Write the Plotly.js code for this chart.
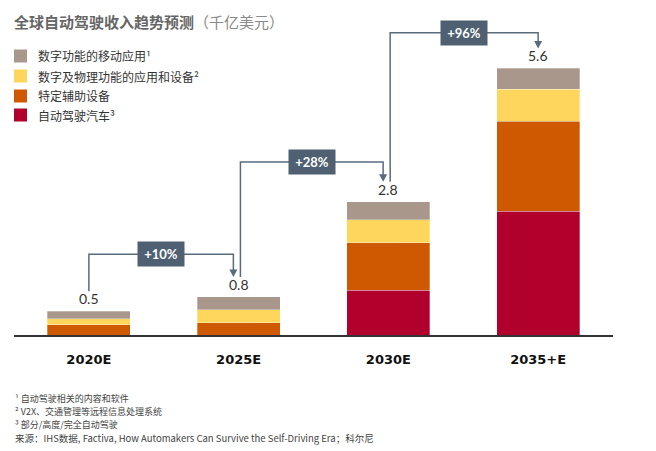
<!DOCTYPE html>
<html>
<head>
<meta charset="utf-8">
<script src="https://cdn.plot.ly/plotly-3.0.1.min.js"></script>
<style>html,body{margin:0;padding:0;background:#fff;}#chart{width:656px;height:451px;}</style>
</head>
<body>
<div id="chart"></div>
<script>
// ---- data ----
const categories = ['2020E', '2025E', '2030E', '2035+E'];
const autonomousCars = [0, 0, 0.94, 2.6];        // 自动驾驶汽车
const assistDevices = [0.22, 0.26, 1.0, 1.89];   // 特定辅助设备
const digitalPhysical = [0.12, 0.27, 0.48, 0.67];// 数字及物理功能的应用和设备
const digitalMobile = [0.16, 0.27, 0.38, 0.44];  // 数字功能的移动应用
const growthLabels = ['+10%', '+28%', '+96%'];
const seriesNames = ['自动驾驶汽车³', '特定辅助设备', '数字及物理功能的应用和设备²', '数字功能的移动应用¹'];
const seriesColors = ['#b1002c', '#cf5900', '#ffd65c', '#a8978a'];
const footnotes = [
  '¹ 自动驾驶相关的内容和软件',
  '² V2X、交通管理等远程信息处理系统',
  '³ 部分/高度/完全自动驾驶',
  '来源：IHS数据, Factiva, How Automakers Can Survive the Self-Driving Era；科尔尼'
];

// ---- build ----
const seriesValues = [autonomousCars, assistDevices, digitalPhysical, digitalMobile];
const xIdx = categories.map((c, i) => i);
const totals = xIdx.map(i => seriesValues.reduce((s, arr) => s + arr[i], 0));

const W = 656, H = 451, ML = 14, MR = 43, MT = 0, MB = 116;
const plotW = W - ML - MR, plotH = H - MT - MB;
const pxPerUnitY = 47.6;
const pxPerCat = plotW / categories.length;
const px2xp = px => (px - ML) / plotW;
const py2yp = py => (MT + plotH - py) / plotH;

const latin = 'Lato, "Noto Sans CJK SC", sans-serif';
const cjk = '"Noto Sans CJK SC", Lato, sans-serif';

const traces = seriesValues.map((vals, k) => ({
  type: 'bar',
  x: xIdx,
  y: vals,
  name: seriesNames[k],
  marker: {color: seriesColors[k], line: {color: 'rgba(255,255,255,0.5)', width: 0.6}},
  hoverinfo: 'skip'
}));

const shapes = [];
const annotations = [];
const lineColor = '#5a6b7c';

// value labels
xIdx.forEach(i => {
  annotations.push({
    x: i, y: totals[i], xref: 'x', yref: 'y',
    text: totals[i].toFixed(1), showarrow: false,
    yanchor: 'bottom', yshift: 2,
    font: {family: latin, size: 14, color: '#333'}
  });
});

// growth connectors
const headHalfW = 4 / pxPerCat;      // half arrowhead width in category units
const headLen = 7.5 / pxPerUnitY;    // arrowhead length in value units
growthLabels.forEach((g, i) => {
  const startX = i + (i > 0 ? 0.012 : 0);
  const endX = (i + 1) - ((i + 1) < categories.length - 1 ? 0.035 : 0);
  const startY = totals[i] + 0.42;
  const tipY = totals[i + 1] + 0.42;
  const level = totals[i + 1] * 0.97 + 0.92;
  shapes.push({
    type: 'path', xref: 'x', yref: 'y',
    path: `M ${startX},${startY} L ${startX},${level} L ${endX},${level} L ${endX},${tipY + headLen * 0.8}`,
    line: {color: lineColor, width: 1.5}
  });
  shapes.push({
    type: 'path', xref: 'x', yref: 'y',
    path: `M ${endX - headHalfW},${tipY + headLen} L ${endX + headHalfW},${tipY + headLen} L ${endX},${tipY} Z`,
    fillcolor: lineColor, line: {width: 0}
  });
  annotations.push({
    x: (startX + endX) / 2, y: level, xref: 'x', yref: 'y',
    text: '<b>' + g + '</b>', showarrow: false,
    width: 46, height: 24, borderpad: 0,
    bgcolor: '#4e6072',
    font: {family: latin, size: 13, color: '#fff'}
  });
});

// manual legend (top to bottom: reverse of stacking)
const legendRowsY = [56, 76, 96, 115];
[3, 2, 1, 0].forEach((k, r) => {
  const cy = legendRowsY[r];
  shapes.push({
    type: 'rect', xref: 'paper', yref: 'paper',
    x0: px2xp(14), x1: px2xp(27), y0: py2yp(cy - 6.5), y1: py2yp(cy + 6.5),
    fillcolor: seriesColors[k], line: {width: 0}
  });
  annotations.push({
    x: px2xp(36), y: py2yp(cy), xref: 'paper', yref: 'paper',
    xanchor: 'left', yanchor: 'middle', showarrow: false,
    text: seriesNames[k], font: {family: cjk, size: 12, color: '#333'}
  });
});

// footnotes
const footY = [398, 411, 424, 438];
footnotes.forEach((t, j) => {
  annotations.push({
    x: px2xp(13), y: py2yp(footY[j]), xref: 'paper', yref: 'paper',
    xanchor: 'left', yanchor: 'middle', showarrow: false,
    text: t, font: {family: cjk, size: j === 3 ? 9.5 : 9, color: '#444'}
  });
});

const layout = {
  width: W, height: H,
  margin: {l: ML, r: MR, t: MT, b: MB, pad: 0},
  paper_bgcolor: '#fff', plot_bgcolor: '#fff',
  barmode: 'stack', bargap: 0.447,
  showlegend: false,
  title: {
    text: '<b>全球自动驾驶收入趋势预测</b><span style="color:#8a8a8a">（千亿美元）</span>',
    xref: 'container', yref: 'container', x: 14 / W, xanchor: 'left',
    y: 1 - 23 / H, yanchor: 'middle',
    font: {family: cjk, size: 15, color: '#666666'}
  },
  xaxis: {
    type: 'linear', range: [-0.5, categories.length - 0.5],
    tickvals: xIdx, ticktext: categories,
    showgrid: false, zeroline: false, showline: true,
    linecolor: '#333', linewidth: 1.5, ticks: '', ticklabelstandoff: 12,
    tickfont: {family: '"DejaVu Sans", Lato, sans-serif', size: 13, color: '#111', weight: 'bold'},
    fixedrange: true
  },
  yaxis: {
    range: [0, plotH / pxPerUnitY], visible: false, showgrid: false, zeroline: false, fixedrange: true
  },
  shapes: shapes,
  annotations: annotations
};

Plotly.newPlot('chart', traces, layout, {displayModeBar: false, staticPlot: true});
</script>
</body>
</html>
